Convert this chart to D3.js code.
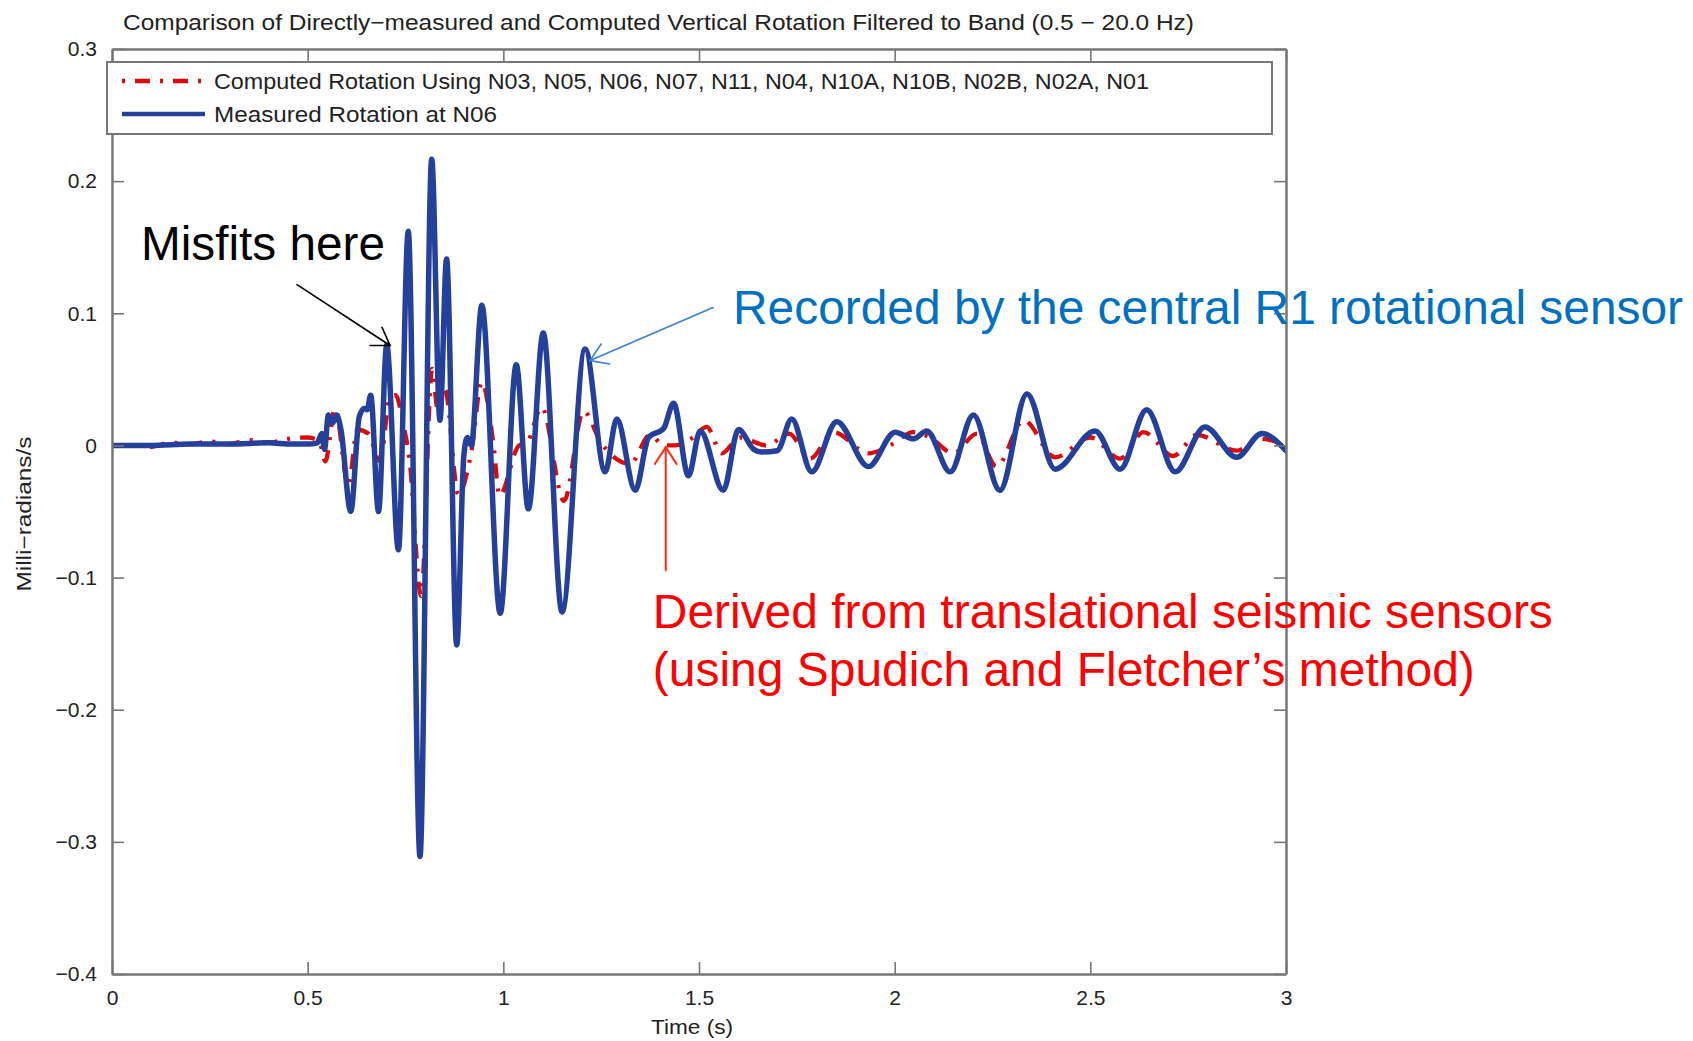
<!DOCTYPE html>
<html>
<head>
<meta charset="utf-8">
<script src="https://cdn.jsdelivr.net/npm/d3@7"></script>
<style>
  html, body { margin: 0; padding: 0; background: #ffffff; }
  svg { display: block; }
</style>
</head>
<body>
<svg id="chart" width="1693" height="1041"></svg>
<script>
// ---------------- DATA ----------------
const titleText = "Comparison of Directly\u2212measured and Computed Vertical Rotation Filtered to Band (0.5 \u2212 20.0 Hz)";
const xLabelText = "Time (s)";
const yLabelText = "Milli\u2212radians/s";
const seriesNames = [
  "Computed Rotation Using N03, N05, N06, N07, N11, N04, N10A, N10B, N02B, N02A, N01",
  "Measured Rotation at N06"
];

const xTickValues = [0, 0.5, 1, 1.5, 2, 2.5, 3];
const xTickLabels = ["0", "0.5", "1", "1.5", "2", "2.5", "3"];
const yTickValues = [-0.4, -0.3, -0.2, -0.1, 0, 0.1, 0.2, 0.3];
const yTickLabels = ["\u22120.4", "\u22120.3", "\u22120.2", "\u22120.1", "0", "0.1", "0.2", "0.3"];

// Measured rotation at N06 (blue, solid)
const timeMeasured = [
  0.00, 0.10, 0.20, 0.30, 0.40, 0.46, 0.50, 0.525, 0.536, 0.543, 0.553, 0.564, 0.574, 0.585,
  0.610, 0.632, 0.645, 0.652, 0.661, 0.681, 0.702, 0.732, 0.757, 0.787, 0.817, 0.838, 0.855,
  0.881, 0.899, 0.908, 0.918, 0.945, 0.992, 1.033, 1.064, 1.102, 1.150, 1.209, 1.260, 1.290,
  1.337, 1.371, 1.410, 1.435, 1.473, 1.503, 1.562, 1.601, 1.640, 1.660, 1.700, 1.737, 1.788,
  1.852, 1.933, 2.001, 2.048, 2.082, 2.142, 2.201, 2.269, 2.338, 2.410, 2.512, 2.576, 2.644,
  2.717, 2.793, 2.874, 2.938, 3.000
];
const valueMeasured = [
  0.000, 0.000, 0.001, 0.001, 0.002, 0.001, 0.001, 0.002, 0.009, -0.003, 0.023, 0.017, 0.023, 0.012,
  -0.050, 0.022, 0.028, 0.027, 0.038, -0.050, 0.076, -0.079, 0.162, -0.311, 0.2165, 0.019, 0.141,
  -0.151, -0.008, 0.006, 0.000, 0.106, -0.127, 0.061, -0.048, 0.085, -0.126, 0.073, -0.020, 0.020,
  -0.034, 0.006, 0.013, 0.032, -0.023, 0.011, -0.034, 0.012, -0.003, -0.005, -0.004, 0.020, -0.020,
  0.018, -0.016, 0.010, 0.005, 0.011, -0.020, 0.023, -0.034, 0.039, -0.018, 0.011, -0.018, 0.027,
  -0.020, 0.014, -0.009, 0.009, -0.004
];

// Computed rotation (red, dash-dot)
const timeComputed = [
  0.00, 0.05, 0.10, 0.15, 0.20, 0.25, 0.30, 0.35, 0.40, 0.45, 0.50, 0.530, 0.545, 0.570,
  0.604, 0.627, 0.655, 0.685, 0.710, 0.725, 0.745, 0.760, 0.790, 0.818, 0.832, 0.851, 0.885,
  0.918, 0.945, 0.975, 0.990, 1.040, 1.060, 1.098, 1.155, 1.205, 1.250, 1.324, 1.375, 1.410,
  1.440, 1.485, 1.520, 1.558, 1.605, 1.673, 1.730, 1.784, 1.844, 1.933, 1.988, 2.048, 2.090,
  2.150, 2.210, 2.260, 2.330, 2.410, 2.500, 2.576, 2.636, 2.712, 2.772, 2.874, 2.934, 3.000
];
const valueComputed = [
  0.000, 0.000, -0.001, 0.002, 0.001, 0.003, 0.001, 0.004, 0.002, 0.005, 0.006, 0.003, -0.012, 0.028,
  -0.030, 0.012, 0.009, -0.012, 0.036, 0.038, 0.015, -0.010, -0.114, 0.058, 0.028, 0.042, -0.037,
  -0.005, 0.048, 0.000, -0.038, 0.000, 0.002, 0.029, -0.042, 0.026, 0.002, -0.014, 0.008, 0.000,
  0.000, 0.006, 0.014, -0.006, 0.006, 0.000, 0.009, -0.010, 0.010, -0.006, 0.000, 0.010, 0.006,
  -0.006, 0.009, -0.016, 0.019, -0.009, 0.006, -0.010, 0.010, -0.008, 0.008, -0.004, 0.005, 0.000
];

// Annotations (positions in data units)
const annotations = [
  { color: "#000000", lines: ["Misfits here"], tx: 0.0741, ty: 0.1404, widths: [244],
    arrowFrom: [0.4728, 0.1217], arrowTo: [0.7105, 0.0756], arrowColor: "#000000", arrowWidth: 1.6 },
  { color: "#0070C0", lines: ["Recorded by the central R1 rotational sensor"], tx: 1.587, ty: 0.0922, widths: [950],
    arrowFrom: [1.536, 0.1043], arrowTo: [1.2216, 0.0642], arrowColor: "#3f7fca", arrowWidth: 1.6 },
  { color: "#FF0000",
    lines: ["Derived from translational seismic sensors", "(using Spudich and Fletcher\u2019s method)"],
    tx: 1.382, ty: -0.1383, widths: [900, 822], lineGap: 58,
    arrowFrom: [1.415, -0.0945], arrowTo: [1.415, -0.0013], arrowColor: "#ff2a0a", arrowWidth: 2 }
];

// ---------------- LAYOUT ----------------
const W = 1693, H = 1041;
const plot = { left: 112, right: 1286, top: 49, bottom: 974 };
const svg = d3.select("#chart");
const x = d3.scaleLinear().domain([0, 3]).range([plot.left, plot.right]);
const y = d3.scaleLinear().domain([-0.4, 0.3]).range([plot.bottom, plot.top]);

const axisColor = "#777777";
const textColor = "#222222";
const tickFont = "'Liberation Sans', Arial, sans-serif";
const redColor = "#dc0a0a";
const blueColor = "#25409a";
const redDash = "15,10,3,10";

svg.append("rect").attr("width", W).attr("height", H).attr("fill", "#ffffff");

svg.append("defs").append("clipPath").attr("id", "plotclip")
  .append("rect").attr("x", plot.left).attr("y", plot.top)
  .attr("width", plot.right - plot.left).attr("height", plot.bottom - plot.top);

// Data lines
const measured = timeMeasured.map((t, i) => ({ t, v: valueMeasured[i] }));
const computed = timeComputed.map((t, i) => ({ t, v: valueComputed[i] }));
const line = d3.line().x(d => x(d.t)).y(d => y(d.v)).curve(d3.curveMonotoneX);

const lines = svg.append("g").attr("clip-path", "url(#plotclip)");
lines.append("path").datum(computed).attr("d", line)
  .attr("fill", "none").attr("stroke", redColor).attr("stroke-width", 4.3)
  .attr("stroke-dasharray", redDash).attr("stroke-linejoin", "round");
lines.append("path").datum(measured).attr("d", line)
  .attr("fill", "none").attr("stroke", blueColor).attr("stroke-width", 5.5)
  .attr("stroke-linejoin", "round").attr("stroke-linecap", "round");

// Axes
function styleAxis(g) {
  g.selectAll(".domain").attr("stroke", axisColor).attr("stroke-width", 2.5);
  g.selectAll(".tick line").attr("stroke", axisColor).attr("stroke-width", 1.6);
  g.selectAll(".tick text").attr("fill", textColor)
    .style("font-family", tickFont).style("font-size", "21px");
}
svg.append("g").attr("transform", `translate(0,${plot.bottom})`)
  .call(d3.axisBottom(x).tickValues(xTickValues).tickFormat((d, i) => xTickLabels[i])
    .tickSizeInner(-12).tickSizeOuter(0).tickPadding(16))
  .call(styleAxis);
svg.append("g").attr("transform", `translate(0,${plot.top})`)
  .call(d3.axisTop(x).tickValues(xTickValues).tickFormat("")
    .tickSizeInner(-12).tickSizeOuter(0))
  .call(styleAxis);
svg.append("g").attr("transform", `translate(${plot.left},0)`)
  .call(d3.axisLeft(y).tickValues(yTickValues).tickFormat((d, i) => yTickLabels[i])
    .tickSizeInner(-12).tickSizeOuter(0).tickPadding(15))
  .call(styleAxis);
svg.append("g").attr("transform", `translate(${plot.right},0)`)
  .call(d3.axisRight(y).tickValues(yTickValues).tickFormat("")
    .tickSizeInner(-12).tickSizeOuter(0))
  .call(styleAxis);

// Title and axis labels
svg.append("text").attr("x", 123).attr("y", 30)
  .attr("textLength", 1071).attr("lengthAdjust", "spacingAndGlyphs")
  .style("font-family", tickFont).style("font-size", "22px").attr("fill", textColor)
  .text(titleText);
svg.append("text").attr("x", 692).attr("y", 1034).attr("text-anchor", "middle")
  .attr("textLength", 82).attr("lengthAdjust", "spacingAndGlyphs")
  .style("font-family", tickFont).style("font-size", "21px").attr("fill", textColor)
  .text(xLabelText);
svg.append("text").attr("transform", "translate(31,514) rotate(-90)").attr("text-anchor", "middle")
  .attr("textLength", 155).attr("lengthAdjust", "spacingAndGlyphs")
  .style("font-family", tickFont).style("font-size", "20px").attr("fill", textColor)
  .text(yLabelText);

// Legend
const legend = svg.append("g");
legend.append("rect").attr("x", 107).attr("y", 62).attr("width", 1165).attr("height", 72)
  .attr("fill", "#ffffff").attr("stroke", axisColor).attr("stroke-width", 2);
const legendItems = [
  { name: seriesNames[0], color: redColor, width: 4.3, dash: redDash, offset: 25, y: 81, len: 935 },
  { name: seriesNames[1], color: blueColor, width: 4.5, dash: null, offset: 0, y: 114, len: 283 }
];
legendItems.forEach(item => {
  legend.append("line").attr("x1", 122).attr("x2", 205).attr("y1", item.y).attr("y2", item.y)
    .attr("stroke", item.color).attr("stroke-width", item.width)
    .attr("stroke-dasharray", item.dash).attr("stroke-dashoffset", item.offset);
  legend.append("text").attr("x", 214).attr("y", item.y + 8)
    .attr("textLength", item.len).attr("lengthAdjust", "spacingAndGlyphs")
    .style("font-family", tickFont).style("font-size", "22px").attr("fill", textColor)
    .text(item.name);
});

// Annotations
const annoFont = "'Liberation Sans', Arial, Helvetica, sans-serif";
annotations.forEach(a => {
  a.lines.forEach((ln, i) => {
    svg.append("text").attr("x", x(a.tx)).attr("y", y(a.ty) + i * (a.lineGap || 0))
      .attr("textLength", a.widths[i]).attr("lengthAdjust", "spacingAndGlyphs")
      .style("font-family", annoFont).style("font-size", "48px").attr("fill", a.color)
      .text(ln);
  });
  const x1 = x(a.arrowFrom[0]), y1 = y(a.arrowFrom[1]);
  const x2 = x(a.arrowTo[0]), y2 = y(a.arrowTo[1]);
  const back = Math.atan2(y1 - y2, x1 - x2);
  const L = 20, spread = 33 * Math.PI / 180;
  const b1 = [x2 + L * Math.cos(back + spread), y2 + L * Math.sin(back + spread)];
  const b2 = [x2 + L * Math.cos(back - spread), y2 + L * Math.sin(back - spread)];
  const g = svg.append("g").attr("stroke", a.arrowColor).attr("stroke-width", a.arrowWidth)
    .attr("fill", "none").attr("stroke-linecap", "round");
  g.append("line").attr("x1", x1).attr("y1", y1).attr("x2", x2).attr("y2", y2);
  g.append("path").attr("d", `M${b1[0]},${b1[1]}L${x2},${y2}L${b2[0]},${b2[1]}`);
});
</script>
</body>
</html>
